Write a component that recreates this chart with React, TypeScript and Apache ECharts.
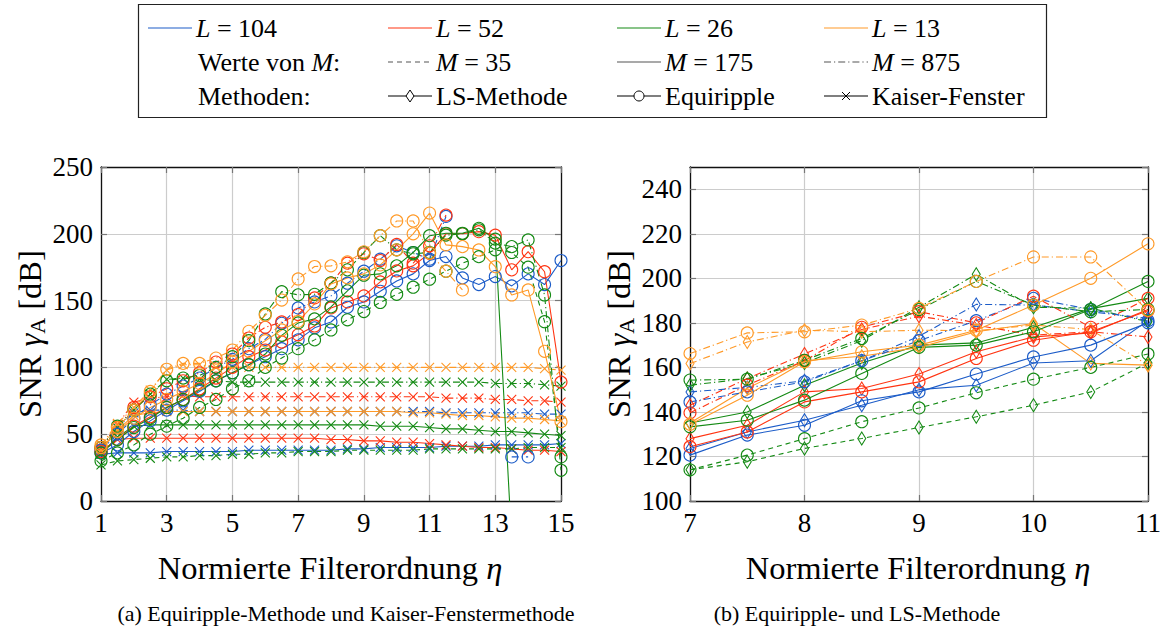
import React, { useEffect, useRef } from 'react';
import * as echarts from 'echarts';

const FONT = '"Liberation Serif", "DejaVu Serif", serif';

// x positions (normierte Filterordnung)
const X_LEFT = [1, 1.5, 2, 2.5, 3, 3.5, 4, 4.5, 5, 5.5, 6, 6.5, 7, 7.5, 8, 8.5, 9, 9.5, 10, 10.5, 11, 11.5, 12, 12.5, 13, 13.5, 14, 14.5, 15];
const X_RIGHT = [7, 7.5, 8, 8.5, 9, 9.5, 10, 10.5, 11];

// Equiripple (left, full range)
const EQ_L104_M175 = [36, 42, 52, 60, 68, 75, 82, 90, 96, 102, 108, 114, 120.6, 129.6, 134, 145, 149, 157, 164.7, 170, 180, 183, 167, 162, 168, 161, 170, 162, 180];
const EQ_L104_M875 = [38, 50, 62, 72, 80, 86, 92, 100, 106, 114, 121, 133, 144.5, 149, 153.5, 163, 172, 181, 191, 186, 181, 213, null, null, null, 33, 33, null, null];
const EQ_L52_M175 = [37, 46, 56, 63, 70, 76, 84, 92, 100, 108, 113, 119, 124.4, 131, 144.5, 149, 153.5, 164, 172.2, 176, 185.4, 200, 200, 201.6, 199, 173, 186.6, 171.6, 89];
const EQ_L52_M875 = [40, 55, 70, 78, 84, 90, 96, 104, 110, 122, 130, 134, 139.6, 152, 163, 178, 185, 180, 192, 178, 191, 214, null, null, null, null, null, null, null];
const EQ_L26_M175 = [36, 46, 55, 62, 70, 76, 83, 90, 96, 102, 110, 124, 133.3, 136.3, 145.3, 157.3, 169, 170, 176, 186, 198.6, 200.4, 200.4, 204.1, 196, -30, null, null, null];
const EQ_L26_M875 = [40, 56, 68, 80, 90, 92, 94, 100, 108, 120, 140, 156.7, 154.3, 154.7, 163.2, 173, 186, 198.6, 188, 185, 186, 199, 200, 203, 193, 190.4, 195.4, 154.2, 23];
const EQ_L26_M35 = [30, 36, 42, 50, 56, 62, 70, 76, 84, 90, 100, 107, 114, 120.6, 128, 135.6, 141.8, 148.6, 154.7, 160, 166, 172, 178, 182.9, 188, 186, 175, 134.2, 33];
const EQ_L13_M175 = [40, 52, 62, 70, 76, 82, 88, 95, 104, 112, 120, 128, 134.4, 147.5, 162.5, 167, 170, 176.7, 188, 200, 215.5, 191.7, 190.4, 187.9, 175.4, 154.2, 158, 112, 59.4];
const EQ_L13_M875 = [42, 55, 68, 82, 98.6, 103, 103, 107, 113, 127, 139, 150.4, 166.2, 175.5, 176, 179, 186.5, 198.6, 209.6, 209.6, 185.6, 172, 158, null, null, null, null, null, null];

// Kaiser-Fenster (left)
const KA_L13_M875 = [42, 58, 70, 83, 98, 102, 102, 100, 100, 100, 100, 100, 100, 100, 100, 100, 100, 100, 100, 100, 100, 100, 100, 100, 100, 100, 100, 99, 98];
const KA_L26_M875 = [38, 55, 68, 80, 91, 92, 91, 90, 89, 89, 89, 89, 89, 89, 89, 89, 89, 89, 89, 89, 89, 89, 89, 89, 88, 88, 88, 87, 86];
const KA_L52_M875 = [40, 57, 74, 77, 78, 79, 78, 78, 78, 78, 78, 78, 78, 78, 78, 78, 78, 78, 78, 78, 78, 77, 77, 77, 76, 76, 75, 75, 74];
const KA_L104_M875 = [36, 55, 66, 68, 68, 68, 67, 67, 67, 67, 67, 67, 67, 67, 67, 67, 67, 67, 67, 67, 67, 66, 66, 66, 66, 66, 66, 65, 65];
const KA_L13_M175 = [38, 53, 64, 66, 67, 67, 67, 67, 67, 67, 67, 67, 67, 67, 67, 67, 67, 67, 67, 66, 66, 65, 64, 64, 63, 62, 62, 61, 60];
const KA_L26_M175 = [35, 48, 56, 57, 57, 57, 57, 57, 57, 57, 57, 57, 57, 57, 57, 57, 57, 56, 56, 56, 55, 54, 54, 53, 52, 52, 51, 50, 49];
const KA_L52_M175 = [37, 46, 47, 47, 47, 47, 47, 47, 47, 47, 47, 47, 47, 47, 46, 46, 45, 45, 44, 44, 43, 42, 41, 40, 40, 39, 38, 38, 37];
const KA_L104_M175 = [35, 36, 36, 36, 37, 37, 37, 37, 37, 38, 38, 38, 38, 38, 38, 39, 39, 40, 40, 40, 40, 41, 41, 41, 42, 42, 42, 42, 43];
const KA_L26_M35 = [27, 30, 31, 32, 33, 33, 34, 34, 35, 35, 36, 36, 37, 37, 37, 38, 38, 38, 38, 38, 39, 39, 39, 39, 39, 39, 40, 40, 40];

// LS-Methode (right)
const LS_L104_M175 = [123.6, 131, 136.3, 143, 150, 152, 162, 163, 181];
const LS_L104_M875 = [149, 151, 154, 163, 174, 188.3, 188, 185, 182];
const LS_L52_M175 = [128, 134, 149, 150.5, 157, 167, 173.7, 175.5, 186];
const LS_L52_M875 = [143, 155, 166, 177, 183, 179, 174.5, 176, 173.7];
const LS_L26_M175 = [135, 140, 152, 162, 170, 171, 178, 186.4, 191];
const LS_L26_M875 = [152, 155, 162, 172, 187, 201.8, 187, 186.6, 180.5];
const LS_L26_M35 = [114, 117.6, 123.6, 128.1, 133, 137.8, 143, 149, 162];
const LS_L13_M175 = [135, 150.6, 163, 165, 169, 176, 179.7, 161.8, 161];
const LS_L13_M875 = [161.7, 171.4, 176.7, 176, 176.7, 176.5, 179, 177, 161];

const L_VALUES = [104, 52, 26, 13];
const M_VALUES = [35, 175, 875];

const COLORS: Record<number, string> = { 104: '#1c5cc8', 52: '#ff3412', 26: '#148a14', 13: '#ff9a28' };
const DASH: Record<number, any> = { 35: [5, 4], 175: 'solid', 875: [7, 3, 1.2, 3] };

const SYM = {
  eq: { symbol: 'circle', size: 12 },
  ls: { symbol: 'diamond', size: [8, 13] },
  ka: { symbol: 'path://M0,0L10,10M10,0L0,10', size: 9 },
};

const LEFT_SERIES = [
  { L: 104, M: 875, m: 'ka', d: KA_L104_M875 },
  { L: 52, M: 875, m: 'ka', d: KA_L52_M875 },
  { L: 26, M: 875, m: 'ka', d: KA_L26_M875 },
  { L: 13, M: 875, m: 'ka', d: KA_L13_M875 },
  { L: 104, M: 175, m: 'ka', d: KA_L104_M175 },
  { L: 52, M: 175, m: 'ka', d: KA_L52_M175 },
  { L: 26, M: 175, m: 'ka', d: KA_L26_M175 },
  { L: 13, M: 175, m: 'ka', d: KA_L13_M175 },
  { L: 26, M: 35, m: 'ka', d: KA_L26_M35 },
  { L: 104, M: 175, m: 'eq', d: EQ_L104_M175 },
  { L: 104, M: 875, m: 'eq', d: EQ_L104_M875 },
  { L: 52, M: 175, m: 'eq', d: EQ_L52_M175 },
  { L: 52, M: 875, m: 'eq', d: EQ_L52_M875 },
  { L: 26, M: 175, m: 'eq', d: EQ_L26_M175 },
  { L: 26, M: 875, m: 'eq', d: EQ_L26_M875 },
  { L: 26, M: 35, m: 'eq', d: EQ_L26_M35 },
  { L: 13, M: 175, m: 'eq', d: EQ_L13_M175 },
  { L: 13, M: 875, m: 'eq', d: EQ_L13_M875 },
];

const RIGHT_SERIES = [
  { L: 104, M: 175, m: 'ls', d: LS_L104_M175 },
  { L: 104, M: 875, m: 'ls', d: LS_L104_M875 },
  { L: 52, M: 175, m: 'ls', d: LS_L52_M175 },
  { L: 52, M: 875, m: 'ls', d: LS_L52_M875 },
  { L: 26, M: 175, m: 'ls', d: LS_L26_M175 },
  { L: 26, M: 875, m: 'ls', d: LS_L26_M875 },
  { L: 26, M: 35, m: 'ls', d: LS_L26_M35 },
  { L: 13, M: 175, m: 'ls', d: LS_L13_M175 },
  { L: 13, M: 875, m: 'ls', d: LS_L13_M875 },
  { L: 104, M: 175, m: 'eq', d: EQ_L104_M175.slice(12, 21) },
  { L: 104, M: 875, m: 'eq', d: EQ_L104_M875.slice(12, 21) },
  { L: 52, M: 175, m: 'eq', d: EQ_L52_M175.slice(12, 21) },
  { L: 52, M: 875, m: 'eq', d: EQ_L52_M875.slice(12, 21) },
  { L: 26, M: 175, m: 'eq', d: EQ_L26_M175.slice(12, 21) },
  { L: 26, M: 875, m: 'eq', d: EQ_L26_M875.slice(12, 21) },
  { L: 26, M: 35, m: 'eq', d: EQ_L26_M35.slice(12, 21) },
  { L: 13, M: 175, m: 'eq', d: EQ_L13_M175.slice(12, 21) },
  { L: 13, M: 875, m: 'eq', d: EQ_L13_M875.slice(12, 21) },
];

function makeSeries(def: any, xs: number[], gi: number) {
  const color = COLORS[def.L];
  const sym = (SYM as any)[def.m];
  return {
    type: 'line',
    xAxisIndex: gi * 2,
    yAxisIndex: gi * 2,
    data: xs.map((x, i) => [x, def.d[i] == null ? '-' : def.d[i]]),
    symbol: sym.symbol,
    symbolSize: sym.size,
    showSymbol: true,
    showAllSymbol: true,
    connectNulls: false,
    clip: true,
    silent: true,
    lineStyle: { color, width: 1.1, type: DASH[def.M] },
    itemStyle: { color: 'rgba(0,0,0,0)', borderColor: color, borderWidth: 1.1 },
    emphasis: { disabled: true },
  };
}

const tickLabel = { fontFamily: FONT, fontSize: 27, color: '#000', margin: 8 };

function mainAxis(pos: string, gi: number, min: number, max: number, interval: number, extraLabel: any = {}) {
  return {
    type: 'value', gridIndex: gi, position: pos, min, max, interval,
    axisLine: { show: true, onZero: false, lineStyle: { color: '#111', width: 1.3 } },
    axisTick: { show: true, inside: true, length: 6, lineStyle: { color: '#777', width: 1.2 } },
    splitLine: { show: true, lineStyle: { color: '#cccccc', width: 1.2 } },
    axisLabel: { ...tickLabel, ...extraLabel },
  };
}
function sideAxis(pos: string, gi: number, min: number, max: number, interval: number) {
  return {
    type: 'value', gridIndex: gi, position: pos, min, max, interval,
    axisLine: { show: true, onZero: false, lineStyle: { color: '#111', width: 1.3 } },
    axisTick: { show: true, inside: true, length: 6, lineStyle: { color: '#777', width: 1.2 } },
    splitLine: { show: false },
    axisLabel: { show: false },
  };
}

function legendGraphics() {
  const g: any[] = [];
  const rows = [28, 62, 96];
  const cols = [148, 388, 617, 824];
  const LW = 44;
  const FS = 26;
  const txt = (x: number, y: number, text: string) => ({
    type: 'text', x, y,
    style: {
      text, fontFamily: FONT, fontSize: FS, fill: '#000', align: 'left', verticalAlign: 'middle',
      rich: { i: { fontFamily: FONT, fontSize: FS, fontStyle: 'italic' } },
    },
  });
  const line = (x: number, y: number, color: string, dash: any) => ({
    type: 'line', shape: { x1: x, y1: y, x2: x + LW, y2: y },
    style: { stroke: color, lineWidth: 1.2, lineDash: dash === 'solid' ? null : dash },
  });
  g.push({ type: 'rect', shape: { x: 138.5, y: 4.5, width: 908, height: 113 }, style: { fill: 'none', stroke: '#222', lineWidth: 1.2 } });
  L_VALUES.forEach((L, i) => {
    g.push(line(cols[i], rows[0], COLORS[L], 'solid'));
    g.push(txt(cols[i] + LW + 4, rows[0], `{i|L} = ${L}`));
  });
  g.push(txt(198, rows[1], 'Werte von {i|M}:'));
  M_VALUES.forEach((M, i) => {
    g.push(line(cols[i + 1], rows[1], '#555', DASH[M]));
    g.push(txt(cols[i + 1] + LW + 4, rows[1], `{i|M} = ${M}`));
  });
  g.push(txt(198, rows[2], 'Methoden:'));
  const names = ['LS-Methode', 'Equiripple', 'Kaiser-Fenster'];
  names.forEach((n, i) => {
    const x = cols[i + 1];
    const y = rows[2];
    const cx = x + LW / 2;
    g.push(line(x, y, '#000', 'solid'));
    if (i === 0) {
      g.push({ type: 'polygon', shape: { points: [[cx, y - 6], [cx + 4, y], [cx, y + 6], [cx - 4, y]] }, style: { fill: '#fff', stroke: '#000', lineWidth: 1 } });
    } else if (i === 1) {
      g.push({ type: 'circle', shape: { cx, cy: y, r: 5 }, style: { fill: '#fff', stroke: '#000', lineWidth: 1 } });
    } else {
      g.push({ type: 'line', shape: { x1: cx - 4, y1: y - 4, x2: cx + 4, y2: y + 4 }, style: { stroke: '#000', lineWidth: 1 } });
      g.push({ type: 'line', shape: { x1: cx - 4, y1: y + 4, x2: cx + 4, y2: y - 4 }, style: { stroke: '#000', lineWidth: 1 } });
    }
    g.push(txt(x + LW + 4, y, n));
  });
  return g;
}

function titleGraphics() {
  const g: any[] = [];
  const TS = 32.5;
  const rich = {
    a: { fontFamily: FONT, fontSize: TS },
    g: { fontFamily: FONT, fontSize: TS, fontStyle: 'italic' },
    s: { fontFamily: FONT, fontSize: 22, padding: [15, 0, 0, 0] },
  };
  [30, 619].forEach((x) => {
    g.push({
      type: 'text', x, y: 334, rotation: Math.PI / 2,
      style: { text: '{a|SNR }{g|γ}{s|A}{a| [dB]}', rich, align: 'center', verticalAlign: 'middle', fill: '#000', fontFamily: FONT, fontSize: TS },
    });
  });
  [330, 918].forEach((x) => {
    g.push({
      type: 'text', x, y: 568,
      style: { text: '{a|Normierte Filterordnung }{g|η}', rich, align: 'center', verticalAlign: 'middle', fill: '#000', fontFamily: FONT, fontSize: TS },
    });
  });
  g.push({ type: 'text', x: 346, y: 613, style: { text: '(a) Equiripple-Methode und Kaiser-Fenstermethode', fontFamily: FONT, fontSize: 22, fill: '#000', align: 'center', verticalAlign: 'middle' } });
  g.push({ type: 'text', x: 857, y: 613, style: { text: '(b) Equiripple- und LS-Methode', fontFamily: FONT, fontSize: 22, fill: '#000', align: 'center', verticalAlign: 'middle' } });
  return g;
}

export default function App() {
  const ref = useRef<HTMLDivElement>(null);
  useEffect(() => {
    if (!ref.current) return;
    const chart = echarts.init(ref.current, null, { renderer: 'svg' });
    const option: any = {
      animation: false,
      backgroundColor: '#fff',
      grid: [
        { left: 101, top: 167, width: 460, height: 334 },
        { left: 690, top: 167, width: 459, height: 334 },
      ],
      xAxis: [
        mainAxis('bottom', 0, 1, 15, 2),
        sideAxis('top', 0, 1, 15, 2),
        mainAxis('bottom', 1, 7, 11, 1),
        sideAxis('top', 1, 7, 11, 1),
      ],
      yAxis: [
        mainAxis('left', 0, 0, 250, 50),
        sideAxis('right', 0, 0, 250, 50),
        mainAxis('left', 1, 100, 250, 20, { showMaxLabel: false }),
        sideAxis('right', 1, 100, 250, 20),
      ],
      series: [
        ...LEFT_SERIES.map((d) => makeSeries(d, X_LEFT, 0)),
        ...RIGHT_SERIES.map((d) => makeSeries(d, X_RIGHT, 1)),
      ],
      graphic: [...legendGraphics(), ...titleGraphics()],
    };
    chart.setOption(option);
    return () => chart.dispose();
  }, []);
  return <div ref={ref} style={{ position: 'fixed', left: 0, top: 0, width: 1164, height: 633, background: '#fff' }} />;
}
